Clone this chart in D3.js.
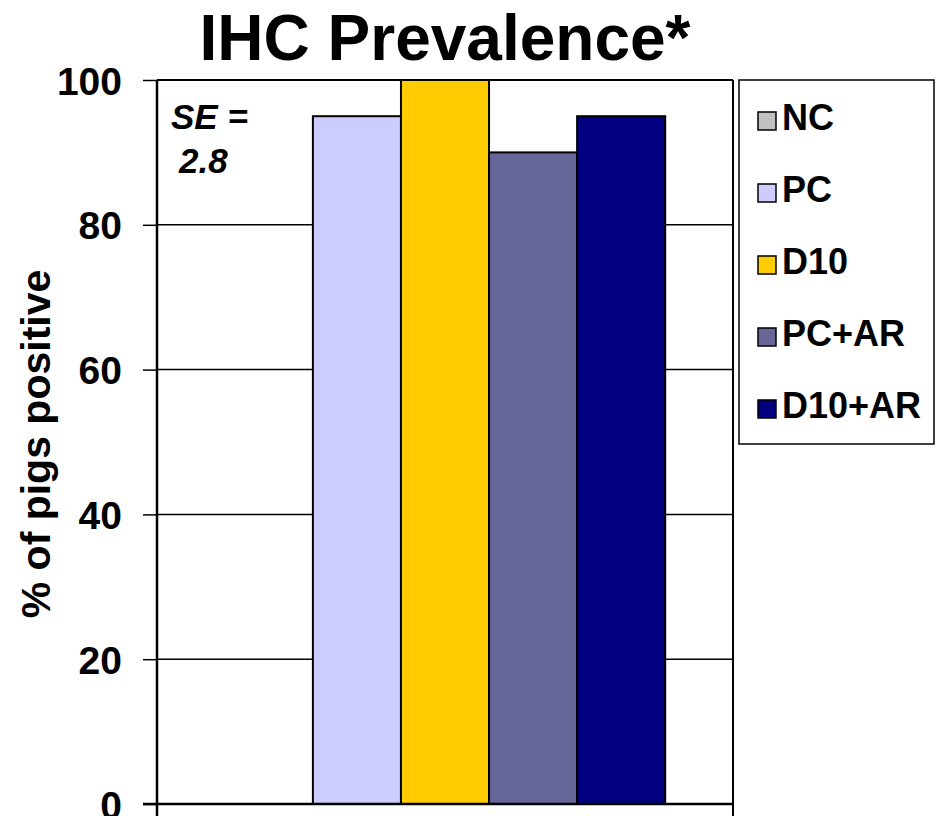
<html>
<head>
<script src="https://d3js.org/d3.v7.min.js"></script>
<style>
    body { margin: 0; background: #fff; }
    text { font-family: "Liberation Sans", Arial, sans-serif; font-weight: bold; fill: #000; }
</style>
</head>
<body>
<script>
    // data
    var series = ["NC", "PC", "D10", "PC+AR", "D10+AR"];
    var values = [0, 95, 100, 90, 95];
    var colors = ["#c0c0c0", "#ccccff", "#ffcc00", "#666699", "#000080"];
    var yTicks = [0, 20, 40, 60, 80, 100];

    var width = 941, height = 816;
    var margin = {top: 80, right: 208, bottom: 12, left: 157};
    var w = width - margin.left - margin.right,
        h = height - margin.top - margin.bottom;

    var svg = d3.select("body").append("svg")
        .attr("width", width)
        .attr("height", height);

    svg.append("text")
        .attr("x", 445)
        .attr("y", 60)
        .attr("text-anchor", "middle")
        .style("font-size", "64px")
        .text("IHC Prevalence*");

    var g = svg.append("g")
        .attr("transform", "translate(" + margin.left + "," + margin.top + ")");

    var x = d3.scaleBand()
        .domain(series)
        .range([0, w])
        .paddingInner(0)
        .paddingOuter(0.77);

    var y = d3.scaleLinear()
        .domain([0, 100])
        .range([h, 0]);

    // gridlines
    g.selectAll(".grid")
        .data(yTicks.slice(1))
        .enter().append("line")
        .attr("x1", 0).attr("x2", w)
        .attr("y1", function (d) { return y(d); })
        .attr("y2", function (d) { return y(d); })
        .style("stroke", "#000")
        .style("stroke-width", 1.5);

    // bars
    g.selectAll(".bar")
        .data(values)
        .enter().append("rect")
        .attr("x", function (d, i) { return x(series[i]); })
        .attr("width", x.bandwidth())
        .attr("y", function (d) { return y(d); })
        .attr("height", function (d) { return h - y(d); })
        .style("fill", function (d, i) { return colors[i]; })
        .style("stroke", function (d) { return d > 0 ? "#000" : "none"; })
        .style("stroke-width", 2);

    // frame
    g.append("line").attr("x1", w).attr("x2", w).attr("y1", 0).attr("y2", height - margin.top)
        .style("stroke", "#000").style("stroke-width", 2);
    g.append("line").attr("x1", 0).attr("x2", w).attr("y1", 0).attr("y2", 0)
        .style("stroke", "#000").style("stroke-width", 2);
    g.append("line").attr("x1", -14).attr("x2", w).attr("y1", h).attr("y2", h)
        .style("stroke", "#000").style("stroke-width", 2.5);
    g.append("line").attr("x1", 0).attr("x2", 0).attr("y1", 0).attr("y2", height - margin.top)
        .style("stroke", "#000").style("stroke-width", 2.5);

    // y axis
    var yAxis = d3.axisLeft(y)
        .tickValues(yTicks)
        .tickSize(14)
        .tickPadding(21);

    var ya = g.append("g").call(yAxis);
    ya.select(".domain").remove();
    ya.selectAll("line").style("stroke", "#000").style("stroke-width", 1.5);
    ya.selectAll("text")
        .attr("dy", "0.36em")
        .style("font-size", "39px")
        .style("font-family", "'Liberation Sans', Arial, sans-serif")
        .style("font-weight", "bold");

    svg.append("text")
        .attr("transform", "translate(50," + 444 + ") rotate(-90)")
        .attr("text-anchor", "middle")
        .style("font-size", "41px")
        .text("% of pigs positive");

    // SE note
    g.append("text")
        .attr("x", 14).attr("y", 49)
        .style("font-size", "35px")
        .style("font-style", "italic")
        .text("SE =");
    g.append("text")
        .attr("x", 22).attr("y", 93)
        .style("font-size", "35px")
        .style("font-style", "italic")
        .text("2.8");

    // legend
    var legend = svg.append("g").attr("transform", "translate(739,80)");
    legend.append("rect")
        .attr("width", 195).attr("height", 364)
        .style("fill", "#fff")
        .style("stroke", "#000")
        .style("stroke-width", 1.5);

    var item = legend.selectAll(".item")
        .data(series)
        .enter().append("g")
        .attr("transform", function (d, i) { return "translate(0," + (50 + i * 72) + ")"; });

    item.append("rect")
        .attr("x", 19).attr("y", -18)
        .attr("width", 18).attr("height", 18)
        .style("fill", function (d, i) { return colors[i]; })
        .style("stroke", "#000")
        .style("stroke-width", 1.5);

    item.append("text")
        .attr("x", 43).attr("y", 0)
        .style("font-size", "36px")
        .text(function (d) { return d; });
</script>
</body>
</html>
